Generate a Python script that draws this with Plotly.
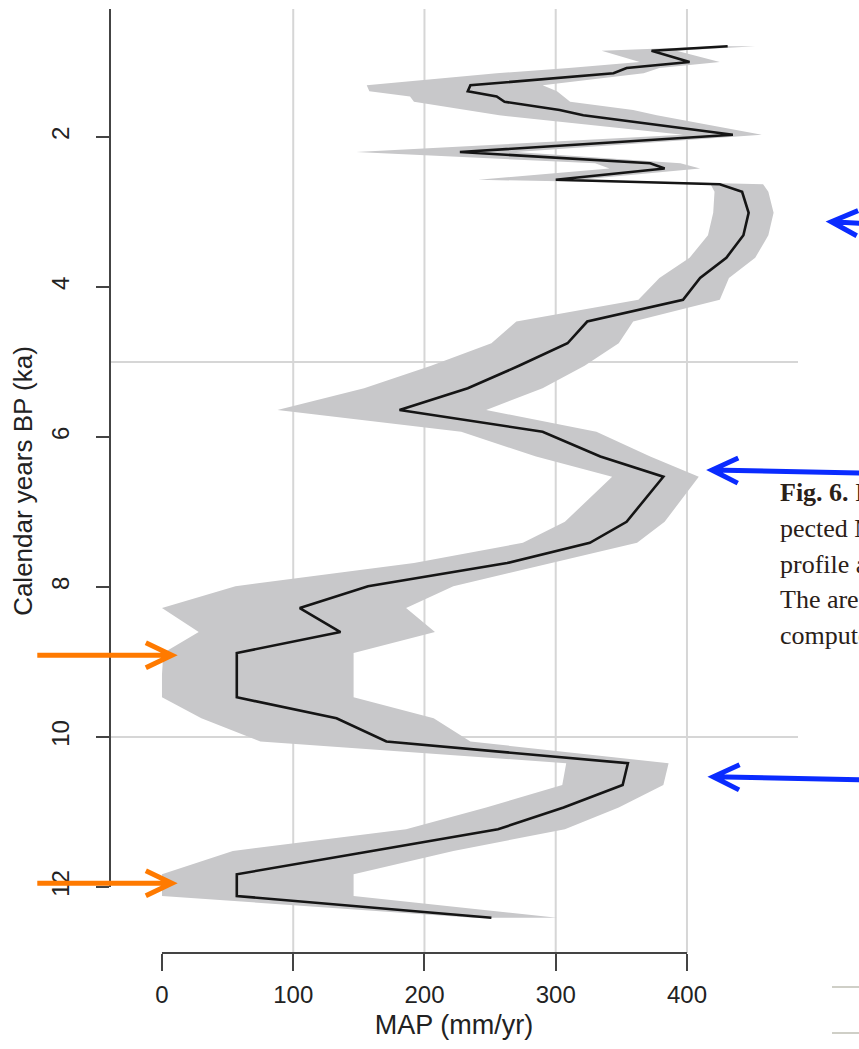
import math
import plotly.graph_objects as go

# Age (ka BP) of each reconstructed sample, mean annual precipitation and its envelope
ka = [0.79, 0.85, 1.00, 1.08, 1.15, 1.31, 1.39, 1.46, 1.53, 1.64, 1.71, 1.97,
      2.20, 2.35, 2.42, 2.57, 2.63, 2.73, 3.01, 3.31, 3.61, 3.88, 4.17, 4.46,
      4.75, 5.05, 5.35, 5.64, 5.93, 6.26, 6.53, 6.83, 7.13, 7.41, 7.68, 7.99,
      8.28, 8.60, 8.88, 9.17, 9.47, 9.75, 10.06, 10.35, 10.64, 10.94, 11.23,
      11.52, 11.83, 12.12, 12.41]
map_mean = [431, 373, 402, 354, 344, 235, 233, 255, 261, 303, 321, 435,
            227, 372, 383, 300, 425, 442, 447, 443, 430, 410, 397, 324,
            309, 272, 233, 181, 290, 334, 382, 368, 354, 326, 263, 157,
            105, 136, 57, 57, 57, 133, 171, 355, 351, 306, 256,
            160, 57, 57, 251]
map_low = [424, 335, 364, 310, 255, 156, 158, 189, 192, 232, 257, 397,
           148, 330, 341, 241, 418, 421, 420, 416, 402, 379, 363, 270,
           251, 205, 154, 88, 228, 285, 343, 325, 307, 275, 192, 56,
           0, 28, 1, 0, 0, 30, 75, 308, 305, 247, 186,
           54, 0, 0, 237]
map_high = [452, 392, 425, 379, 367, 290, 301, 306, 311, 359, 377, 457,
            270, 395, 410, 318, 458, 462, 466, 462, 452, 432, 425, 359,
            348, 322, 290, 247, 331, 372, 409, 396, 383, 362, 298, 222,
            186, 208, 146, 146, 146, 207, 235, 386, 382, 348, 307,
            222, 146, 146, 301]

x_ticks = [0, 100, 200, 300, 400]
y_ticks = [2, 4, 6, 8, 10, 12]
x_grid = [100, 200, 300, 400]
y_grid = [5, 10]

# Highlighted intervals: (age, MAP at arrow tip, MAP at tail)
wet_marks = [(3.13, 510, 562), (6.44, 419, 562), (10.53, 420, 562)]
dry_marks = [(8.91, 7.6, -95), (11.95, 7.6, -95)]

caption_lines = ["<b>Fig. 6.</b> Inferred", "pected MAP", "profile along",
                 "The area", "computed"]

W, H = 859, 1049
ML, MR, MT, MB = 110, 61, 9, 96
PW, PH = W - ML - MR, H - MT - MB
X_RANGE = [-39.6, 484.6]
KA_RANGE = [12.88, 0.293]

GRID = "#d6d6d6"
AXIS = "#444444"
TEXT = "#222222"
BAND = "#c8c8ca"


def xp(v):
    return (v - X_RANGE[0]) / (X_RANGE[1] - X_RANGE[0])


def yp(k):
    return (k - KA_RANGE[0]) / (KA_RANGE[1] - KA_RANGE[0])


def px_y(py):
    return 1 - (py - MT) / PH


fig = go.Figure()

fig.add_trace(go.Scatter(
    x=map_low + map_high[::-1], y=ka + ka[::-1],
    fill="toself", fillcolor=BAND, mode="lines",
    line=dict(width=0, color=BAND), hoverinfo="skip", showlegend=False))
fig.add_trace(go.Scatter(
    x=map_mean, y=ka, mode="lines",
    line=dict(color="#151515", width=2.6), showlegend=False))

shapes = []
for g in x_grid:
    shapes.append(dict(type="line", xref="paper", yref="paper",
                       x0=xp(g), x1=xp(g), y0=0, y1=1, layer="below",
                       line=dict(color=GRID, width=2)))
for g in y_grid:
    shapes.append(dict(type="line", xref="paper", yref="paper",
                       x0=0, x1=1, y0=yp(g), y1=yp(g), layer="below",
                       line=dict(color=GRID, width=2)))
# axis lines spanning the labelled ranges only
shapes.append(dict(type="line", xref="paper", yref="paper",
                   x0=0, x1=0, y0=1, y1=yp(y_ticks[-1]),
                   line=dict(color=AXIS, width=2)))
shapes.append(dict(type="line", xref="paper", yref="paper",
                   x0=xp(x_ticks[0]), x1=xp(x_ticks[-1]), y0=0, y1=0,
                   line=dict(color=AXIS, width=2)))


def arrow(k_tip, v_tip, v_tail, color, k_tail=None, wing=29, spread=0.45):
    k_tail = k_tip if k_tail is None else k_tail
    tx, ty = xp(v_tip), yp(k_tip)
    sx, sy = xp(v_tail), yp(k_tail)
    # unit direction from tip towards tail, in pixels
    dx, dy = (sx - tx) * PW, (sy - ty) * PH
    n = math.hypot(dx, dy)
    ux, uy = dx / n, dy / n
    pts = []
    for s in (spread, -spread):
        c, si = math.cos(s), math.sin(s)
        wx, wy = ux * c - uy * si, ux * si + uy * c
        pts.append((tx + wx * wing / PW, ty + wy * wing / PH))
    path = (f"M{sx},{sy} L{tx},{ty} "
            f"M{pts[0][0]},{pts[0][1]} L{tx},{ty} L{pts[1][0]},{pts[1][1]}")
    return dict(type="path", xref="paper", yref="paper", path=path,
                line=dict(color=color, width=5))


for k, v_tip, v_tail in wet_marks:
    shapes.append(arrow(k, v_tip, v_tail, "#0a2bff", k_tail=k + 0.05))
for k, v_tip, v_tail in dry_marks:
    shapes.append(arrow(k, v_tip, v_tail, "#ff7a00"))

# table rules of the neighbouring page
for py in (987, 1033):
    shapes.append(dict(type="line", xref="paper", yref="paper",
                       x0=(832 - ML) / PW, x1=(900 - ML) / PW,
                       y0=px_y(py), y1=px_y(py),
                       line=dict(color="#cfcfc7", width=2)))

annotations = []
for i, line in enumerate(caption_lines):
    annotations.append(dict(
        xref="paper", yref="paper", x=(778 - ML) / PW, y=px_y(493 + 35.5 * i),
        xanchor="left", yanchor="middle", text=line, showarrow=False,
        font=dict(family="Liberation Serif", size=26, color="#2a2018")))

fig.update_layout(
    width=W, height=H,
    margin=dict(l=ML, r=MR, t=MT, b=MB, autoexpand=False),
    paper_bgcolor="white", plot_bgcolor="white",
    font=dict(family="Liberation Sans, Arial, sans-serif", color=TEXT),
    showlegend=False,
    shapes=shapes, annotations=annotations,
    xaxis=dict(range=X_RANGE, tickvals=x_ticks, ticks="outside", ticklen=17,
               tickwidth=2, tickcolor=AXIS, showgrid=False, zeroline=False,
               showline=False, tickfont=dict(size=24, color=TEXT),
               ticklabelstandoff=3,
               title=dict(text="MAP (mm/yr)", font=dict(size=27, color=TEXT),
                          standoff=8)),
    yaxis=dict(range=KA_RANGE, tickvals=y_ticks, ticks="outside", ticklen=13,
               tickwidth=2, tickcolor=AXIS, showgrid=False, zeroline=False,
               showline=False, tickangle=-90,
               tickfont=dict(size=24, color=TEXT), ticklabelstandoff=17,
               title=dict(text="Calendar years BP (ka)",
                          font=dict(size=26, color=TEXT), standoff=7)),
)

fig.write_html("out.html")
